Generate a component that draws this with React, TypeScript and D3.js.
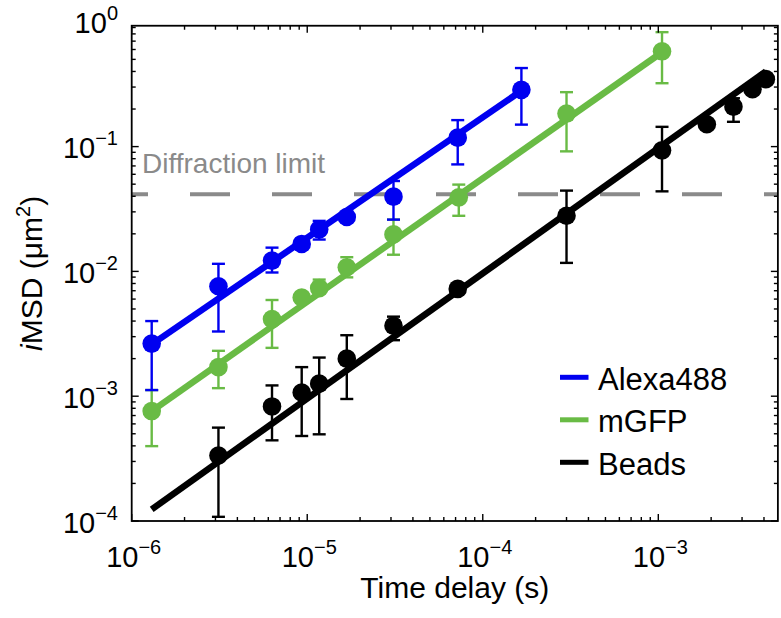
import React from "react";
import * as d3 from "d3";

// time delay (s) / iMSD (um^2)
const alexaT = [1.3e-6, 3.12e-6, 6.3e-6, 9.3e-6, 1.17e-5, 1.68e-5, 3.1e-5, 7.2e-5, 1.66e-4];
const alexaMSD = [2.64e-3, 7.6e-3, 1.22e-2, 1.66e-2, 2.17e-2, 2.73e-2, 3.97e-2, 0.118, 0.285];
const alexaLo = [1.12e-3, 3.3e-3, 9.8e-3, 1.5e-2, 1.8e-2, 2.5e-2, 2.6e-2, 0.072, 0.15];
const alexaHi = [4.0e-3, 1.15e-2, 1.55e-2, 1.8e-2, 2.54e-2, 2.95e-2, 5.3e-2, 0.163, 0.426];

const gfpT = [1.3e-6, 3.12e-6, 6.3e-6, 9.3e-6, 1.17e-5, 1.68e-5, 3.1e-5, 7.3e-5, 3.0e-4, 1.05e-3];
const gfpMSD = [7.6e-4, 1.71e-3, 4.15e-3, 6.18e-3, 7.35e-3, 1.08e-2, 1.98e-2, 3.92e-2, 0.184, 0.58];
const gfpLo = [3.98e-4, 1.16e-3, 2.44e-3, 5.6e-3, 6.7e-3, 8.96e-3, 1.36e-2, 2.79e-2, 0.0916, 0.322];
const gfpHi = [1.12e-3, 2.31e-3, 5.9e-3, 6.8e-3, 8.6e-3, 1.3e-2, 2.6e-2, 4.96e-2, 0.273, 0.826];

const beadT = [3.12e-6, 6.3e-6, 9.3e-6, 1.17e-5, 1.68e-5, 3.1e-5, 7.2e-5, 3.0e-4, 1.05e-3, 1.89e-3, 2.68e-3, 3.44e-3, 4.1e-3];
const beadMSD = [3.35e-4, 8.28e-4, 1.07e-3, 1.26e-3, 2.0e-3, 3.67e-3, 7.24e-3, 2.79e-2, 9.33e-2, 0.151, 0.209, 0.288, 0.347];
const beadLo = [1.08e-4, 4.43e-4, 4.8e-4, 4.95e-4, 9.5e-4, 2.81e-3, 6.6e-3, 1.17e-2, 4.38e-2, 0.14, 0.158, 0.27, 0.33];
const beadHi = [5.6e-4, 1.22e-3, 1.71e-3, 2.04e-3, 3.08e-3, 4.34e-3, 7.9e-3, 4.44e-2, 0.144, 0.163, 0.244, 0.31, 0.365];

// power-law fits, start and end in data units
const alexaFitT = [1.3e-6, 1.66e-4];
const alexaFitMSD = [2.6e-3, 0.28];
const gfpFitT = [1.3e-6, 1.05e-3];
const gfpFitMSD = [7.6e-4, 0.57];
const beadFitT = [1.3e-6, 4.1e-3];
const beadFitMSD = [1.24e-4, 0.4];

const diffractionLimit = 0.0415;

const xTickExp = [-6, -5, -4, -3];
const yTickExp = [-4, -3, -2, -1, 0];
const xLimits = [1e-6, 4.8e-3];
const yLimits = [1e-4, 0.93];

const FONT = "'Liberation Sans', Arial, Helvetica, sans-serif";
const BLUE = "#0000f0";
const GREEN = "#69bb45";
const BLACK = "#000000";

const series = [
  { name: "Beads", color: BLACK, t: beadT, v: beadMSD, lo: beadLo, hi: beadHi, ft: beadFitT, fv: beadFitMSD },
  { name: "mGFP", color: GREEN, t: gfpT, v: gfpMSD, lo: gfpLo, hi: gfpHi, ft: gfpFitT, fv: gfpFitMSD },
  { name: "Alexa488", color: BLUE, t: alexaT, v: alexaMSD, lo: alexaLo, hi: alexaHi, ft: alexaFitT, fv: alexaFitMSD },
];
const legendOrder = ["Alexa488", "mGFP", "Beads"];

export default function App() {
  const x = d3.scaleLog().domain([1e-6, 1e-3]).range([131.7, 658.3]);
  const y = d3.scaleLog().domain([1e-4, 1]).range([521, 21.8]);

  const left = x(xLimits[0]);
  const right = x(xLimits[1]);
  const bottom = y(yLimits[0]);
  const top = y(yLimits[1]);

  // minor ticks 2..9 per decade inside the limits
  const minorX: number[] = [];
  xTickExp.forEach((e) => {
    for (let m = 2; m <= 9; m++) {
      const v = m * Math.pow(10, e);
      if (v < xLimits[1]) minorX.push(v);
    }
  });
  const minorY: number[] = [];
  yTickExp.forEach((e) => {
    for (let m = 2; m <= 9; m++) {
      const v = m * Math.pow(10, e);
      if (v < yLimits[1]) minorY.push(v);
    }
  });
  const majorY = yTickExp.map((e) => Math.pow(10, e)).filter((v) => v <= yLimits[1]);

  const line = d3
    .line<[number, number]>()
    .x((d) => x(d[0]))
    .y((d) => y(d[1]));

  const cap = 6.5;

  return (
    <svg width={781} height={618} style={{ position: "absolute", left: 0, top: 0 }} fontFamily={FONT}>
      <rect width={781} height={618} fill="#fff" />

      {/* diffraction limit */}
      <line
        x1={left}
        x2={right}
        y1={y(diffractionLimit)}
        y2={y(diffractionLimit)}
        stroke="#8a8a8a"
        strokeWidth={4}
        strokeDasharray="40 42"
        strokeDashoffset={23.7}
      />
      <text x={142} y={173.3} fontSize={28} fill="#8a8a8a">
        Diffraction limit
      </text>

      {/* error bars */}
      {series.map((s) => (
        <g key={s.name + "-err"} stroke={s.color} strokeWidth={2.4}>
          {s.t.map((t, i) => (
            <g key={i}>
              <line x1={x(t)} x2={x(t)} y1={y(s.lo[i])} y2={y(s.hi[i])} />
              <line x1={x(t) - cap} x2={x(t) + cap} y1={y(s.lo[i])} y2={y(s.lo[i])} />
              <line x1={x(t) - cap} x2={x(t) + cap} y1={y(s.hi[i])} y2={y(s.hi[i])} />
            </g>
          ))}
        </g>
      ))}

      {/* fits */}
      {series.map((s) => (
        <path
          key={s.name + "-fit"}
          d={line(s.ft.map((t, i) => [t, s.fv[i]] as [number, number])) || ""}
          stroke={s.color}
          strokeWidth={6.5}
          fill="none"
        />
      ))}

      {/* markers */}
      {series.map((s) => (
        <g key={s.name + "-pts"} fill={s.color}>
          {s.t.map((t, i) => (
            <circle key={i} cx={x(t)} cy={y(s.v[i])} r={9.3} />
          ))}
        </g>
      ))}

      {/* frame */}
      <rect x={left} y={top} width={right - left} height={bottom - top} fill="none" stroke="#000" strokeWidth={1.8} />

      {/* x ticks */}
      <g stroke="#000" strokeWidth={1.4}>
        {xTickExp.map((e) => {
          const px = x(Math.pow(10, e));
          return (
            <g key={"xt" + e}>
              <line x1={px} x2={px} y1={bottom} y2={bottom - 7} />
              <line x1={px} x2={px} y1={top} y2={top + 7} />
            </g>
          );
        })}
        {minorX.map((v, i) => (
          <g key={"xm" + i}>
            <line x1={x(v)} x2={x(v)} y1={bottom} y2={bottom - 4} />
            <line x1={x(v)} x2={x(v)} y1={top} y2={top + 4} />
          </g>
        ))}
        {majorY.map((v, i) => (
          <g key={"yt" + i}>
            <line x1={left} x2={left + 7} y1={y(v)} y2={y(v)} />
            <line x1={right} x2={right - 7} y1={y(v)} y2={y(v)} />
          </g>
        ))}
        {minorY.map((v, i) => (
          <g key={"ym" + i}>
            <line x1={left} x2={left + 4} y1={y(v)} y2={y(v)} />
            <line x1={right} x2={right - 4} y1={y(v)} y2={y(v)} />
          </g>
        ))}
      </g>

      {/* tick labels */}
      {xTickExp.map((e) => (
        <text key={"xl" + e} x={x(Math.pow(10, e)) + 2} y={566.7} fontSize={29} textAnchor="middle" fill="#000">
          10
          <tspan fontSize={20} dy={-13}>
            {"\u2212" + Math.abs(e)}
          </tspan>
        </text>
      ))}
      {yTickExp.map((e) => (
        <text key={"yl" + e} x={118} y={y(Math.pow(10, e)) + 11.5} fontSize={29} textAnchor="end" fill="#000">
          10
          <tspan fontSize={20} dy={-13}>
            {e === 0 ? "0" : "\u2212" + Math.abs(e)}
          </tspan>
        </text>
      ))}

      {/* axis labels */}
      <text x={(left + right) / 2} y={598} fontSize={30} textAnchor="middle" fill="#000">
        Time delay (s)
      </text>
      <text transform={`translate(42,${(top + bottom) / 2}) rotate(-90)`} fontSize={30} textAnchor="middle" fill="#000">
        <tspan fontStyle="italic">i</tspan>MSD (μm
        <tspan fontSize={20} dy={-12}>
          2
        </tspan>
        <tspan dy={12}>)</tspan>
      </text>

      {/* legend */}
      {legendOrder.map((name, i) => {
        const s = series.find((d) => d.name === name)!;
        const ly = 377.3 + i * 42.5;
        return (
          <g key={"lg" + name}>
            <line x1={560} x2={588.5} y1={ly} y2={ly} stroke={s.color} strokeWidth={5} />
            <text x={598} y={ly + 12.5} fontSize={31} fill="#000">
              {name}
            </text>
          </g>
        );
      })}
    </svg>
  );
}
